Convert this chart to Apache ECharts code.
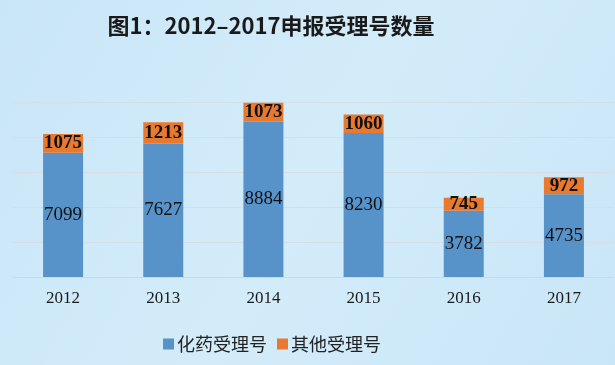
<!DOCTYPE html>
<html><head><meta charset="utf-8">
<script src="https://cdn.jsdelivr.net/npm/echarts@6/dist/echarts.min.js"></script>
<style>html,body{margin:0;padding:0;background:#cde9f8}#c{width:615px;height:365px}</style>
</head><body><div id="c"></div>
<script>
const years = ['2012','2013','2014','2015','2016','2017'];
const chemValues = [7099, 7627, 8884, 8230, 3782, 4735];
const otherValues = [1075, 1213, 1073, 1060, 745, 972];
const seriesNames = ['化药受理号', '其他受理号'];
const titleText = '图1：2012–2017申报受理号数量';

const chart = echarts.init(document.getElementById('c'));
chart.setOption({
  backgroundColor: {type:'linear', x:0, y:0, x2:1, y2:1, colorStops:[
    {offset:0, color:'#c9e6f7'}, {offset:0.5, color:'#d3ecfa'}, {offset:1, color:'#c9e6f7'}]},
  animation: false,
  title: {text: titleText, left: 266, top: 10, textAlign: 'center',
    textStyle: {fontFamily: '"Noto Sans CJK SC"', fontWeight: 'bold', fontSize: 22, color: '#1a1a1a'}},
  legend: {left: 158, top: 330, itemWidth: 11, itemHeight: 11, itemGap: 10,
    icon: 'rect',
    textStyle: {fontFamily: '"Noto Sans CJK SC"', fontSize: 18, color: '#222', padding:[0,0,0,-2]},
    data: seriesNames},
  grid: {left: 13, right: 1, top: 102, bottom: 88},
  xAxis: {type: 'category', data: years,
    axisLine: {show: true, lineStyle: {color: '#cfd8de', width: 1}},
    axisTick: {show: false},
    axisLabel: {fontFamily: '"Liberation Serif"', fontSize: 17, color: '#1a1a1a', margin: 13}},
  yAxis: {type: 'value', min: 0, max: 10000, interval: 2000,
    axisLabel: {show: false}, axisLine: {show: false}, axisTick: {show: false},
    splitLine: {lineStyle: {color: '#d6dee4', width: 1}}},
  series: [
    {name: seriesNames[0], type: 'bar', stack: 'a', data: chemValues, barWidth: 40,
      itemStyle: {color: '#5792c9'},
      label: {show: true, position: 'inside', fontFamily: '"Liberation Serif"', fontSize: 19, color: '#111'}},
    {name: seriesNames[1], type: 'bar', stack: 'a', data: otherValues, barWidth: 40,
      itemStyle: {color: '#e8792f'},
      label: {show: true, position: 'inside', fontFamily: '"Liberation Serif"', fontWeight: 'bold', fontSize: 19, color: '#111'}}
  ]
});
</script></body></html>
